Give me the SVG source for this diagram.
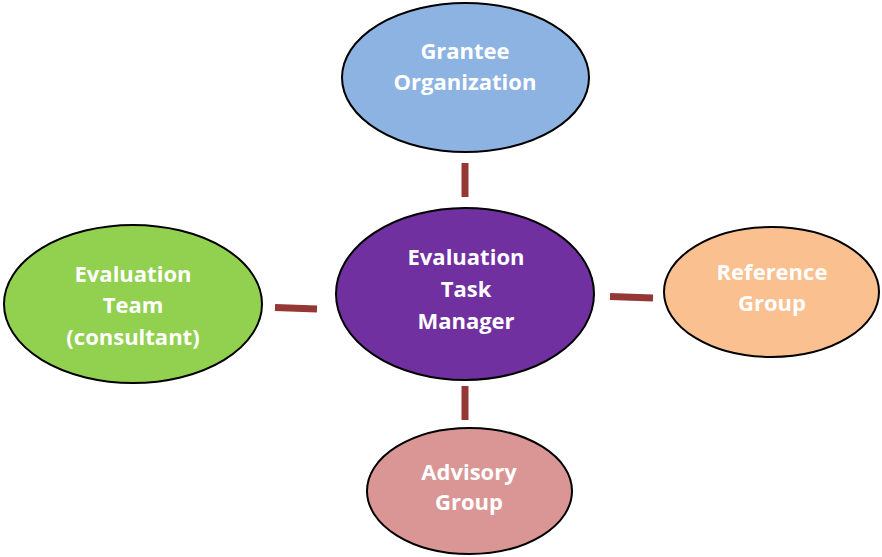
<svg xmlns="http://www.w3.org/2000/svg" width="882" height="557" viewBox="0 0 882 557">
  <style>
    .node ellipse { stroke: #000; stroke-width: 2; }
    .node text { font-family: "Open Sans", "Liberation Sans", sans-serif; font-weight: bold; font-size: 22px; fill: #fff; text-anchor: middle; }
    .link { stroke: #953735; stroke-width: 7; fill: none; }
  </style>
  <rect width="882" height="557" fill="#fff"/>
  <g id="connectors">
    <line class="link" x1="465" y1="163" x2="465" y2="197"/>
    <line class="link" x1="275" y1="307.5" x2="317" y2="309"/>
    <line class="link" x1="610" y1="296.5" x2="653" y2="298"/>
    <line class="link" x1="465" y1="386" x2="465" y2="420"/>
  </g>
  <g id="grantee" class="node">
    <ellipse cx="465.5" cy="77.5" rx="123.5" ry="74.5" fill="#8DB3E2"/>
    <text x="465" y="59">Grantee</text>
    <text x="465" y="90">Organization</text>
  </g>
  <g id="task-manager" class="node">
    <ellipse cx="465" cy="294" rx="129" ry="86" fill="#7030A0"/>
    <text x="466" y="265">Evaluation</text>
    <text x="466" y="297">Task</text>
    <text x="466" y="329">Manager</text>
  </g>
  <g id="evaluation-team" class="node">
    <ellipse cx="133" cy="304" rx="129" ry="79" fill="#92D050"/>
    <text x="133" y="282">Evaluation</text>
    <text x="133" y="313">Team</text>
    <text x="133" y="345">(consultant)</text>
  </g>
  <g id="reference-group" class="node">
    <ellipse cx="771.5" cy="292" rx="107.5" ry="65" fill="#FAC090"/>
    <text x="772" y="280">Reference</text>
    <text x="772" y="311">Group</text>
  </g>
  <g id="advisory-group" class="node">
    <ellipse cx="469.5" cy="491" rx="102.5" ry="63" fill="#D99694"/>
    <text x="469" y="480">Advisory</text>
    <text x="469" y="510">Group</text>
  </g>
</svg>
